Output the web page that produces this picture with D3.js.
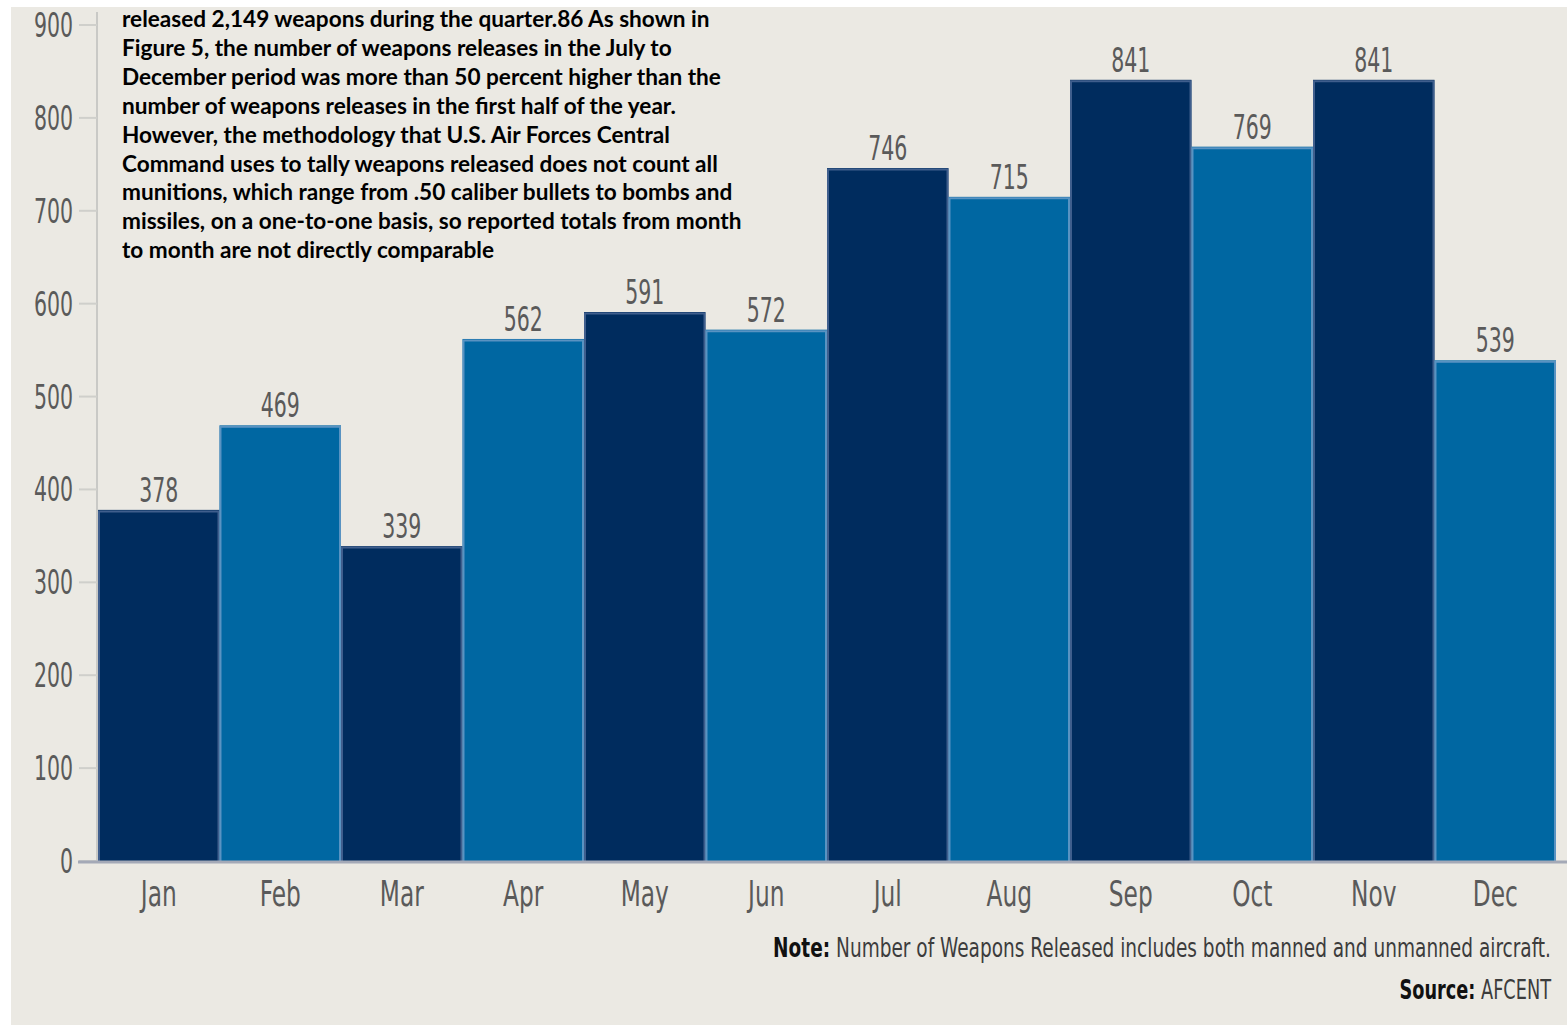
<!DOCTYPE html>
<html>
<head>
<meta charset="utf-8">
<script src="https://cdn.jsdelivr.net/npm/d3@7"></script>
<style>
  html, body { margin: 0; padding: 0; background: #ffffff; }
  svg { display: block; }
  .narrow { font-family: "Liberation Sans Narrow", "DejaVu Sans Condensed", "Liberation Sans", sans-serif; }
  .para { font-family: Lato, "Open Sans", sans-serif; font-weight: 700; }
</style>
</head>
<body>
<svg id="chart" width="1567" height="1025"></svg>
<script>
// Monthly weapons released
const months = ["Jan", "Feb", "Mar", "Apr", "May", "Jun", "Jul", "Aug", "Sep", "Oct", "Nov", "Dec"];
const released = [378, 469, 339, 562, 591, 572, 746, 715, 841, 769, 841, 539];
const yTicks = [0, 100, 200, 300, 400, 500, 600, 700, 800, 900];
const paragraph = [
  "released 2,149 weapons during the quarter.86 As shown in",
  "Figure 5, the number of weapons releases in the July to",
  "December period was more than 50 percent higher than the",
  "number of weapons releases in the first half of the year.",
  "However, the methodology that U.S. Air Forces Central",
  "Command uses to tally weapons released does not count all",
  "munitions, which range from .50 caliber bullets to bombs and",
  "missiles, on a one-to-one basis, so reported totals from month",
  "to month are not directly comparable"
];

const W = 1567, H = 1025;
const svg = d3.select("#chart");

// panel background
svg.append("rect").attr("x", 11).attr("y", 7).attr("width", W - 11).attr("height", H - 7)
  .attr("fill", "#ebe9e3");

const x = d3.scaleBand().domain(months).range([98, 1556]).padding(0);
const y = d3.scaleLinear().domain([0, 900]).range([861, 25]);

const dark = "#002c5e", light = "#0067a2";
const darkEdge = "#4f6b98", lightEdge = "#6f9fcb";
const textGrey = "#5a5a5a";
const sxNum = 0.67;  // horizontal squeeze for numeric labels
const sxMonth = 0.74;

// y axis
const yAxis = svg.append("g");
yAxis.append("line").attr("x1", 97).attr("x2", 97).attr("y1", 12).attr("y2", 861)
  .attr("stroke", "#c9c9c6").attr("stroke-width", 2);
yAxis.selectAll("line.tick").data(yTicks).join("line").attr("class", "tick")
  .attr("x1", 79).attr("x2", 97)
  .attr("y1", d => y(d)).attr("y2", d => y(d))
  .attr("stroke", "#cfcfcb").attr("stroke-width", 2);
yAxis.selectAll("text").data(yTicks).join("text")
  .attr("class", "narrow")
  .attr("transform", d => `translate(73,${y(d) + 12}) scale(${sxNum},1)`)
  .attr("text-anchor", "end")
  .attr("font-size", 34)
  .attr("fill", textGrey)
  .text(d => d);

// bars
const bars = svg.append("g");
bars.selectAll("rect").data(months).join("rect")
  .attr("x", d => x(d))
  .attr("y", (d, i) => y(released[i]))
  .attr("width", x.bandwidth())
  .attr("height", (d, i) => y(0) - y(released[i]))
  .attr("fill", (d, i) => i % 2 === 0 ? dark : light);
// lighter rim along the top and sides of each bar
bars.selectAll("path").data(months).join("path")
  .attr("d", (d, i) => {
    const x0 = x(d) + 1, x1 = x(d) + x.bandwidth() - 1, t = y(released[i]) + 1.5;
    return `M${x0},${y(0)}V${t}H${x1}V${y(0)}`;
  })
  .attr("fill", "none")
  .attr("stroke", (d, i) => i % 2 === 0 ? darkEdge : lightEdge)
  .attr("stroke-width", 2)
  .attr("opacity", 0.8);

// baseline
svg.append("line").attr("x1", 78).attr("x2", W).attr("y1", 862).attr("y2", 862)
  .attr("stroke", "#a4a9b7").attr("stroke-width", 3);

// value labels
svg.append("g").selectAll("text").data(months).join("text")
  .attr("class", "narrow")
  .attr("transform", (d, i) => `translate(${x(d) + x.bandwidth() / 2},${y(released[i]) - 8}) scale(${sxNum},1)`)
  .attr("text-anchor", "middle")
  .attr("font-size", 34)
  .attr("fill", textGrey)
  .text((d, i) => released[i]);

// month labels
svg.append("g").selectAll("text").data(months).join("text")
  .attr("class", "narrow")
  .attr("transform", d => `translate(${x(d) + x.bandwidth() / 2},906) scale(${sxMonth},1)`)
  .attr("text-anchor", "middle")
  .attr("font-size", 35)
  .attr("fill", textGrey)
  .text(d => d);

// note and source
const note = svg.append("text").attr("class", "narrow")
  .attr("transform", `translate(1551,957) scale(0.763,1)`)
  .attr("text-anchor", "end").attr("font-size", 27).attr("fill", "#3c3c3c");
note.append("tspan").attr("font-weight", 700).attr("fill", "#111").text("Note:");
note.append("tspan").text(" Number of Weapons Released includes both manned and unmanned aircraft.");

const src = svg.append("text").attr("class", "narrow")
  .attr("transform", `translate(1551,999) scale(0.73,1)`)
  .attr("text-anchor", "end").attr("font-size", 27).attr("fill", "#3c3c3c");
src.append("tspan").attr("font-weight", 700).attr("fill", "#111").text("Source:");
src.append("tspan").text(" AFCENT");

// overlaid paragraph
svg.append("g").selectAll("text").data(paragraph).join("text")
  .attr("class", "para")
  .attr("x", 122)
  .attr("y", (d, i) => 27 + i * 28.9)
  .attr("font-size", 22.6)
  .attr("fill", "#000")
  .text(d => d);
</script>
</body>
</html>
